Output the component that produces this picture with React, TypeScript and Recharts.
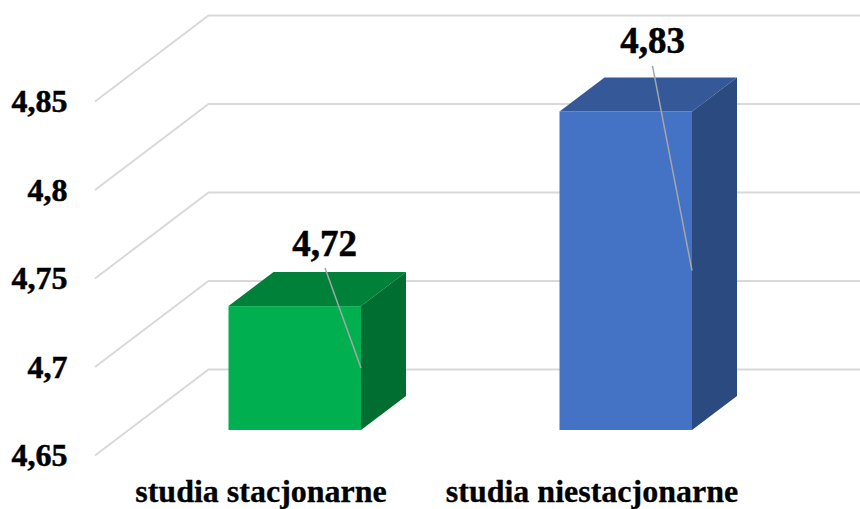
import React from 'react';
import { BarChart, Bar, XAxis, YAxis, CartesianGrid, LabelList } from 'recharts';

const categories = ['studia stacjonarne', 'studia niestacjonarne'];
const values = [4.72, 4.83];
const yTicks = [4.65, 4.7, 4.75, 4.8, 4.85];

const data = categories.map((name, i) => ({ name, value: values[i] }));

const frontColors = ['#00B050', '#4472C4'];
const topColors = ['#008139', '#355899'];
const sideColors = ['#006E30', '#2B4A80'];

const FONT = '"Liberation Serif", serif';

// how far the box goes back
const DEPTH_X = 45;
const DEPTH_Y = 34;

// the labels were dragged by hand in the original, so each has its own offset
const labelDx = [-36.5, -39.5];
const labelDy = [-50, -58];
const leaderDx = [-36, -39.5];
const leaderDy = [-38, -45.5];

const comma = (v: number) => String(v).replace('.', ',');

const Box = (props: any) => {
  const { x, y, width, height, index } = props;
  const r = x + width;
  const b = y + height;
  return (
    <g>
      <polygon
        points={`${x},${y} ${x + DEPTH_X},${y - DEPTH_Y} ${r + DEPTH_X},${y - DEPTH_Y} ${r},${y}`}
        fill={topColors[index]}
      />
      <polygon
        points={`${r},${y} ${r + DEPTH_X},${y - DEPTH_Y} ${r + DEPTH_X},${b - DEPTH_Y} ${r},${b}`}
        fill={sideColors[index]}
      />
      <rect x={x} y={y} width={width} height={height} fill={frontColors[index]} />
    </g>
  );
};

const ValueLabel = (props: any) => {
  const { x, y, width, height, value, index } = props;
  const r = x + width;
  return (
    <g>
      <line
        x1={r + leaderDx[index]}
        y1={y + leaderDy[index]}
        x2={r}
        y2={y + height / 2}
        stroke="#A6A6A6"
        strokeWidth={1.5}
      />
      <text
        x={r + labelDx[index]}
        y={y + labelDy[index]}
        textAnchor="middle"
        fontFamily={FONT}
        fontWeight="bold"
        fontSize={37}
        fill="#000"
        stroke="#000"
        strokeWidth={0.5}
      >
        {comma(value)}
      </text>
    </g>
  );
};

// one grid line: slanted wall on the left, then flat along the back
const GridLine = (props: any) => {
  const { x1, x2, y1 } = props;
  return (
    <polyline
      points={`${x1 - 34.5},${y1 + 25.5} ${x1 + 79},${y1 - 60.5} ${x2 + 69},${y1 - 60.5}`}
      fill="none"
      stroke="#D9D9D9"
      strokeWidth={2}
    />
  );
};

const YTick = (props: any) => {
  const { y, payload } = props;
  return (
    <text
      x={67.5}
      y={y + 36}
      textAnchor="end"
      fontFamily={FONT}
      fontWeight="bold"
      fontSize={32}
      fill="#000"
      stroke="#000"
      strokeWidth={0.5}
    >
      {comma(payload.value)}
    </text>
  );
};

const XTick = (props: any) => {
  const { x, y, payload } = props;
  return (
    <text
      x={x - 34}
      y={y + 72}
      textAnchor="middle"
      fontFamily={FONT}
      fontWeight="bold"
      fontSize={32}
      fill="#000"
      stroke="#000"
      strokeWidth={0.3}
    >
      {payload.value}
    </text>
  );
};

export default function App() {
  return (
    <div style={{ position: 'absolute', left: 0, top: 0, width: 860, height: 509 }}>
      <BarChart
        width={860}
        height={509}
        data={data}
        margin={{ top: 76, right: 68.5, bottom: 0, left: 0 }}
        barSize={132.5}
      >
        <CartesianGrid vertical={false} horizontal={(p: any) => <GridLine key={p.key} {...p} />} />
        <XAxis dataKey="name" height={79} axisLine={false} tickLine={false} tickSize={0} tickMargin={0} interval={0} tick={XTick} />
        <YAxis width={129.5} domain={[4.65, 4.85]} ticks={yTicks} axisLine={false} tickLine={false} tick={YTick} />
        <Bar dataKey="value" shape={Box} isAnimationActive={false}>
          <LabelList dataKey="value" content={ValueLabel} />
        </Bar>
      </BarChart>
    </div>
  );
}
